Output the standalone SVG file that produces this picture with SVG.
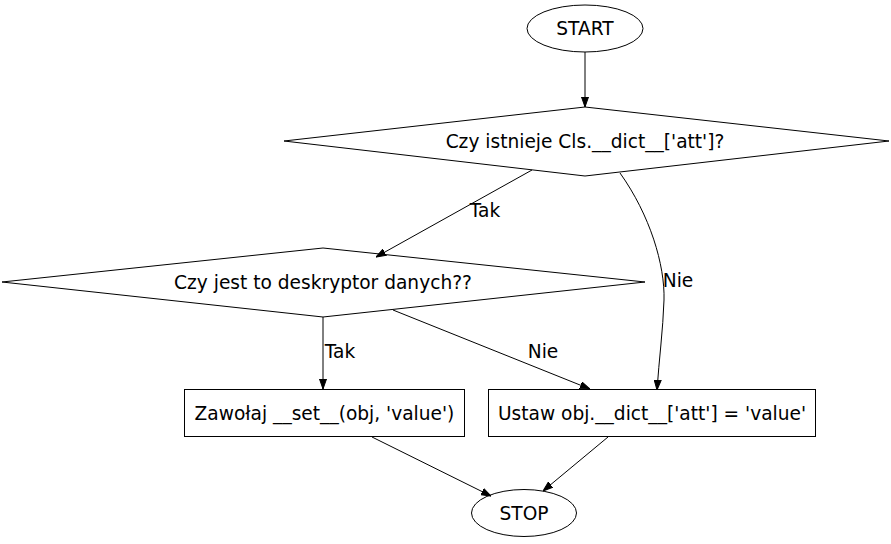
<svg xmlns="http://www.w3.org/2000/svg" width="891" height="544" viewBox="0 0 891 544">
<defs>
<marker id="ah" markerWidth="10" markerHeight="8" refX="10" refY="4" orient="auto" markerUnits="userSpaceOnUse">
<path d="M0,0.5 L10,4 L0,7.5 Z" fill="#000" stroke="#000" stroke-width="1"/>
</marker>
</defs>
<style>
text{font-family:"DejaVu Sans",sans-serif;font-size:18.6px;fill:#000}
.n{fill:#fff;stroke:#000;stroke-width:1}
.e{fill:none;stroke:#000;stroke-width:1;marker-end:url(#ah)}
</style>
<rect width="891" height="544" fill="#fff"/>
<g id="start"><ellipse class="n" cx="585" cy="28.5" rx="58" ry="23.5"/><text x="585" y="35" text-anchor="middle">START</text></g>
<g id="q1"><polygon class="n" points="585,107 889,141 585,176 284,141"/><text x="585" y="147.5" text-anchor="middle">Czy istnieje Cls.__dict__['att']?</text></g>
<g id="q2"><polygon class="n" points="323,248 645,282 323,317 2,282"/><text x="323" y="288.5" text-anchor="middle">Czy jest to deskryptor danych??</text></g>
<g id="set"><rect class="n" x="184.5" y="389.5" width="280" height="47"/><text x="324.5" y="419.5" text-anchor="middle">Zawołaj __set__(obj, 'value')</text></g>
<g id="dict"><rect class="n" x="488.5" y="389.5" width="327" height="47"/><text x="652" y="419.5" text-anchor="middle">Ustaw obj.__dict__['att'] = 'value'</text></g>
<g id="stop"><ellipse class="n" cx="524" cy="513" rx="52.5" ry="23.5"/><text x="524" y="519.5" text-anchor="middle">STOP</text></g>
<g id="edges">
<path class="e" d="M585,52 L585,107"/>
<path class="e" d="M532,170 L376,257"/>
<text x="485" y="217" text-anchor="middle">Tak</text>
<path class="e" d="M620,173 C650,215 665,265 664,300 C663,330 659,360 657,390"/>
<text x="678" y="287" text-anchor="middle">Nie</text>
<path class="e" d="M323,317 L323,389"/>
<text x="340" y="358" text-anchor="middle">Tak</text>
<path class="e" d="M393,310 L590,389"/>
<text x="543" y="358" text-anchor="middle">Nie</text>
<path class="e" d="M372,437 L491,496"/>
<path class="e" d="M608,437 L543,491"/>
</g>
</svg>
